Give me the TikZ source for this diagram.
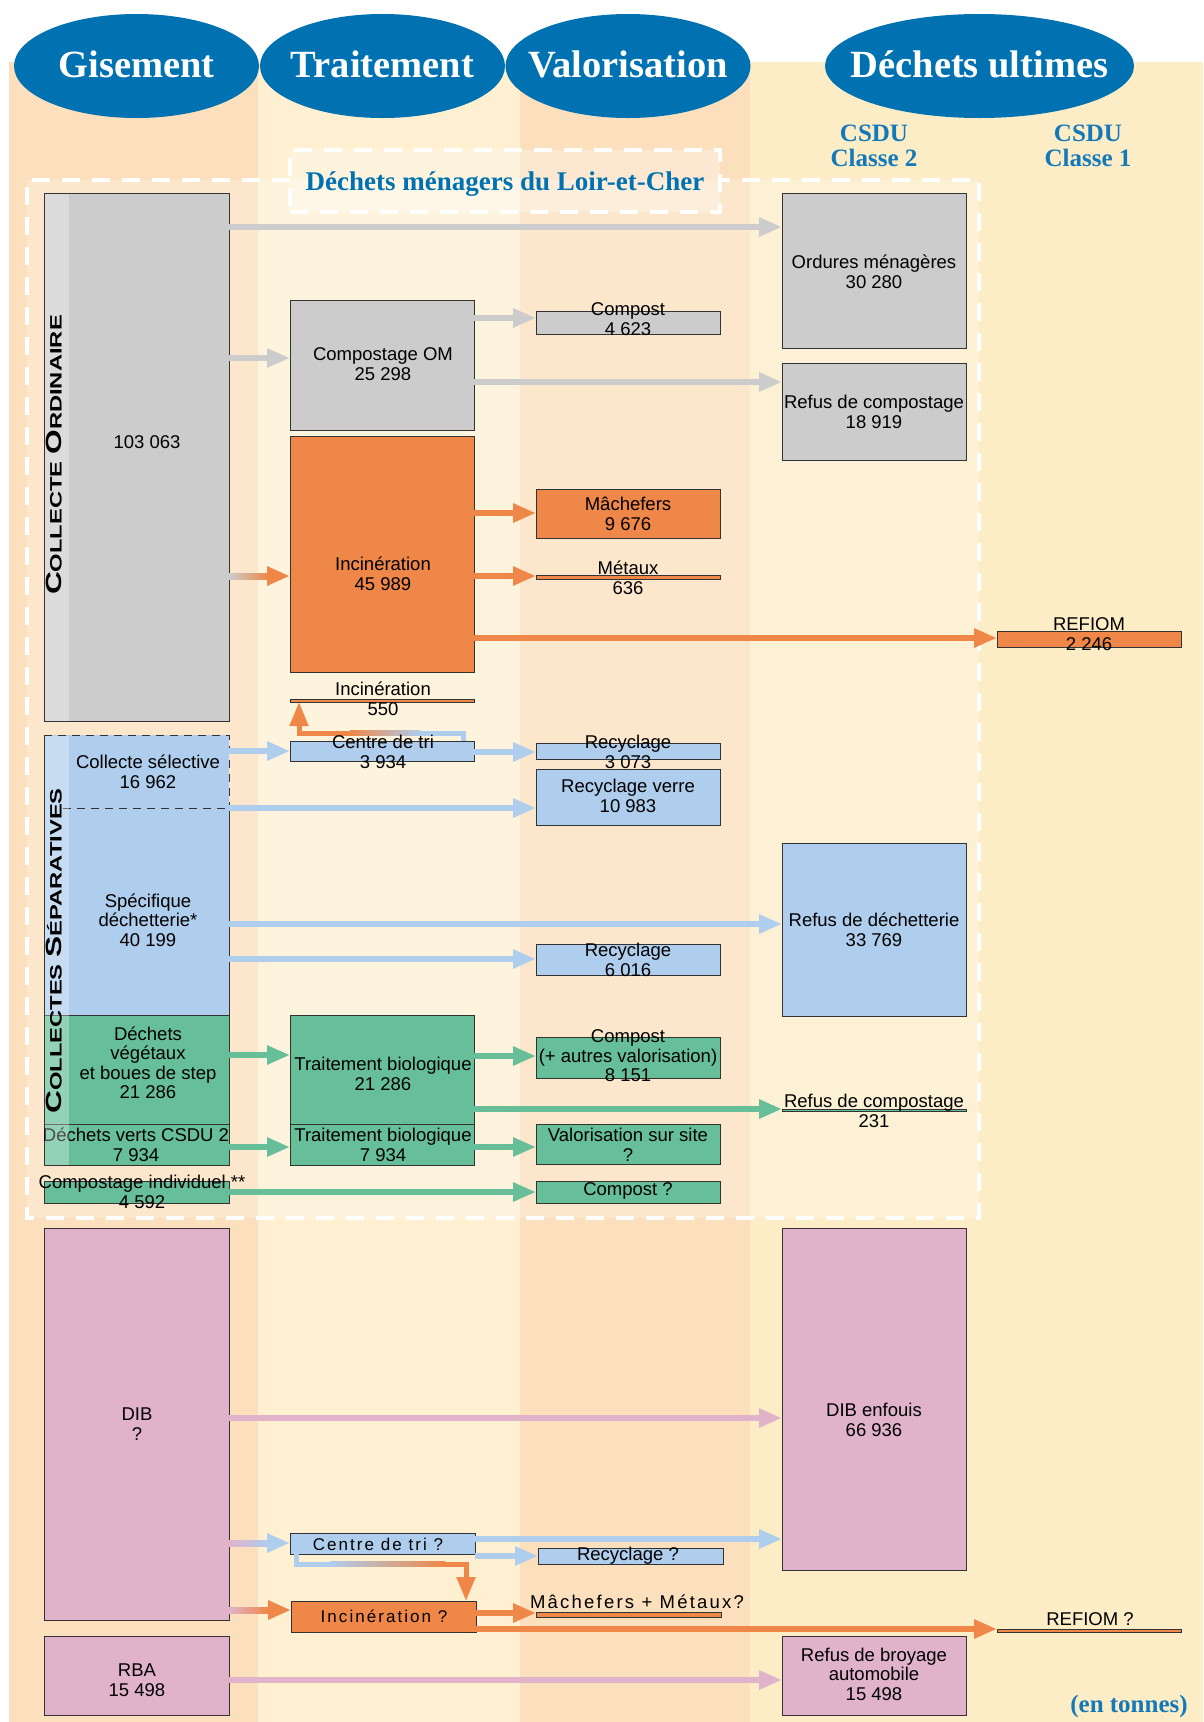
\documentclass[tikz,border=0pt]{standalone}
\usepackage{fontspec}
\setmainfont{Liberation Sans}
\newfontfamily\hdrfont{Liberation Serif}
\newfontfamily\spcfont[LetterSpace=12]{Liberation Sans}
\usetikzlibrary{shapes.geometric,arrows.meta,fit,calc}
\definecolor{hblue}{HTML}{0072B1}
\definecolor{tblue}{HTML}{1479B8}
\definecolor{colA}{HTML}{FCDFBC}
\definecolor{colB}{HTML}{FEF0D1}
\definecolor{colC}{HTML}{FDEDC7}
\definecolor{cgray}{HTML}{CCCCCC}
\definecolor{corange}{HTML}{EE8748}
\definecolor{cblue}{HTML}{AFCDEC}
\definecolor{cgreen}{HTML}{67BF99}
\definecolor{cpink}{HTML}{E0B3CB}
\tikzset{
  bx/.style={inner sep=0pt, outer sep=0pt, draw=black!80, line width=0.9pt},
  bxf/.style={inner sep=0pt, outer sep=0pt, draw=none},
  txt/.style={font=\fontsize{18.5}{19.5}\selectfont, align=center, inner sep=0pt, text=black},
  spc/.style={font=\spcfont\fontsize{17}{17}\selectfont, inner sep=0pt, text=black},
  hdr/.style={font=\hdrfont\bfseries\fontsize{38.5}{38.5}\selectfont, text=white, inner sep=0pt},
  csdu/.style={font=\hdrfont\bfseries\fontsize{25}{25}\selectfont, text=tblue, align=center, inner sep=0pt},
  hell/.style={ellipse, fill=hblue, inner sep=0pt, minimum height=104pt},
  arr/.style={line width=6pt, -{Triangle[length=23pt,width=18pt]}},
  elb/.style={line width=5pt, line join=miter},
  elbarr/.style={line width=5pt, line join=miter, -{Triangle[length=24pt,width=18pt]}},
  wdash/.style={draw=white, line width=4pt, dash pattern=on 18pt off 12pt},
  sdash/.style={draw=black!80, line width=0.9pt, dash pattern=on 8pt off 6pt},
  sline/.style={draw=black!80, line width=0.9pt},
  vtxt/.style={rotate=90, inner sep=0pt, text=black}
}
\newcommand\bigsc{\fontsize{22}{22}\selectfont}
\newcommand\smlsc{\fontsize{16.5}{16.5}\selectfont}
\begin{document}
\begin{tikzpicture}[x=1pt, y=-1pt]
\useasboundingbox (0,0) rectangle (1203,1722);
% background
\fill[white] (0,0) rectangle (1203,1722);
\fill[colA] (9,62) rectangle (258,1722);
\fill[colB] (258,62) rectangle (520,1722);
\fill[colA] (520,62) rectangle (750,1722);
\fill[colC] (750,62) rectangle (1203,1722);
% headers
\node[hell, minimum width=245pt] (h1) at (136.5,66) {};
\node[hell, minimum width=245pt] (h2) at (382.5,66) {};
\node[hell, minimum width=245pt] (h3) at (628,66) {};
\node[hell, minimum width=309pt] (h4) at (979.5,66) {};
\node[hdr, anchor=base] (h1t) at (136.5,77) {Gisement};
\node[hdr, anchor=base] (h2t) at (382.5,77) {Traitement};
\node[hdr, anchor=base] (h3t) at (628,77) {Valorisation};
\node[hdr, anchor=base] (h4t) at (979.5,77) {Déchets ultimes};
\node[csdu] (c2) at (874,146) {CSDU\\Classe 2};
\node[csdu] (c1) at (1088,146) {CSDU\\Classe 1};
% main dashed box
\fill[white, opacity=0.25] (27,180) rectangle (979,1218);
\draw[wdash] (290,180) -- (27,180) -- (27,1218) -- (979,1218) -- (979,180) -- (720,180);
\node[inner sep=0pt, fit={(290,150) (720,212)}, fill=white, fill opacity=0.3, wdash] (lbl) {};
\node[font=\hdrfont\bfseries\fontsize{27}{27}\selectfont, text=hblue, anchor=base, inner sep=0pt] (lblt) at (505,190) {Déchets ménagers du Loir-et-Cher};
% boxes
\node[bx, fill=cgray, fit={(44,193) (229,721)}] (co) {};
\node[bx, fill=cgray, fit={(782,193) (966,348)}] (om) {};
\node[bx, fill=cgray, fit={(290,300) (474,430)}] (comp) {};
\node[bx, fill=cgray, fit={(536,311) (720,334)}] (cmp) {};
\node[bx, fill=cgray, fit={(782,363) (966,460)}] (ref1) {};
\node[bx, fill=corange, fit={(290,436) (474,672)}] (inc) {};
\node[bx, fill=corange, fit={(536,489) (720,538)}] (mach) {};
\node[bx, fill=corange, fit={(536,575) (720,579)}] (met) {};
\node[bx, fill=corange, fit={(997,631) (1181,647)}] (refiom) {};
\node[bx, fill=corange, fit={(290,699) (474,702)}] (inc5) {};
\node[bx, fill=cblue, fit={(290,741) (474,761)}] (ct) {};
\node[bx, fill=cblue, fit={(536,743) (720,759)}] (rec1) {};
\node[bx, fill=cblue, fit={(536,769) (720,825)}] (recv) {};
\node[bxf, fill=cblue, fit={(44,735) (229,808)}] (cs) {};
\node[bxf, fill=cblue, fit={(44,808) (229,1015)}] (csd) {};
\node[bxf, fill=cgreen, fit={(44,1015) (229,1124)}] (dv) {};
\node[bxf, fill=cgreen, fit={(44,1124) (229,1165)}] (dvc) {};
\node[bx, fill=cblue, fit={(782,843) (966,1016)}] (refdec) {};
\node[bx, fill=cblue, fit={(536,944) (720,975)}] (rec2) {};
\node[bx, fill=cgreen, fit={(290,1015) (474,1124)}] (tb1) {};
\node[bx, fill=cgreen, fit={(536,1037) (720,1078)}] (cmp2) {};
\node[bx, fill=cgreen, fit={(782,1109) (966,1111)}] (ref231) {};
\node[bx, fill=cgreen, fit={(290,1124) (474,1165)}] (tb2) {};
\node[bx, fill=cgreen, fit={(536,1124) (720,1164)}] (val) {};
\node[bx, fill=cgreen, fit={(44,1181) (229,1203)}] (ci) {};
\node[bx, fill=cgreen, fit={(536,1181) (720,1203)}] (cmpq) {};
\node[bx, fill=cpink, fit={(44,1228) (229,1620)}] (dib) {};
\node[bx, fill=cpink, fit={(782,1228) (966,1570)}] (dibe) {};
\node[bx, fill=cblue, fit={(290,1533) (475,1554)}] (ctq) {};
\node[bx, fill=cblue, fit={(538,1548) (723,1564)}] (recq) {};
\node[bx, fill=corange, fit={(291,1601) (476,1632)}] (incq) {};
\node[bx, fill=corange, fit={(536,1612) (721,1617)}] (machq) {};
\node[bx, fill=corange, fit={(997,1629) (1181,1632)}] (refq) {};
\node[bx, fill=cpink, fit={(44,1636) (229,1715)}] (rba) {};
\node[bx, fill=cpink, fit={(782,1636) (966,1715)}] (rbar) {};
% collectes separatives outline
\draw[sline] (csd.north east) -- (dvc.south east) -- (dvc.south west) -- (cs.north west);
\draw[sdash] (cs.north west) -- (cs.north east) -- (cs.south east);
\draw[sdash] ($(cs.south west)+(19,0)$) -- (cs.south east);
\draw[sline] (dv.north west) -- (dv.north east);
\draw[sline] (dvc.north west) -- (dvc.north east);
% arrows: collecte ordinaire
\draw[arr, cgray] (co.east |- 0,227) -- (om.west |- 0,227);
\draw[arr, cgray] (co.east |- 0,358) -- (comp.west |- 0,358);
\draw[arr, corange] (co.east |- 0,576) -- (inc.west |- 0,576);
\shade[left color=cgray, right color=corange] (co.east |- 0,573) rectangle (268,579);
\draw[arr, cgray] (comp.east |- 0,318) -- (cmp.west |- 0,318);
\draw[arr, cgray] (comp.east |- 0,382) -- (ref1.west |- 0,382);
\draw[arr, corange] (inc.east |- 0,513) -- (mach.west |- 0,513);
\draw[arr, corange] (inc.east |- 0,576) -- (met.west |- 0,576);
\draw[arr, corange] (inc.east |- 0,638) -- (refiom.west |- 0,638);
% centre de tri -> incineration 550
\draw[elb, cblue] (ct.north -| 463,0) -- (463,733) -- (420,733);
\shade[left color=corange, right color=cblue] (350,730.5) rectangle (420,735.5);
\draw[elbarr, corange] (350,733) -- (299,733) -- (inc5.south -| 299,0);
% collectes separatives
\draw[arr, cblue] (cs.east |- 0,751) -- (ct.west |- 0,751);
\draw[arr, cblue] (ct.east |- 0,752) -- (rec1.west |- 0,752);
\draw[arr, cblue] (csd.east |- 0,808) -- (recv.west |- 0,808);
\draw[arr, cblue] (csd.east |- 0,924) -- (refdec.west |- 0,924);
\draw[arr, cblue] (csd.east |- 0,959) -- (rec2.west |- 0,959);
\draw[arr, cgreen] (dv.east |- 0,1055) -- (tb1.west |- 0,1055);
\draw[arr, cgreen] (tb1.east |- 0,1056) -- (cmp2.west |- 0,1056);
\draw[arr, cgreen] (tb1.east |- 0,1109) -- (ref231.west |- 0,1109);
\draw[arr, cgreen] (dvc.east |- 0,1147) -- (tb2.west |- 0,1147);
\draw[arr, cgreen] (tb2.east |- 0,1147) -- (val.west |- 0,1147);
\draw[arr, cgreen] (ci.east |- 0,1192) -- (cmpq.west |- 0,1192);
% DIB and RBA
\draw[arr, cpink] (dib.east |- 0,1418) -- (dibe.west |- 0,1418);
\draw[arr, cblue] (dib.east |- 0,1543) -- (ctq.west |- 0,1543);
\shade[left color=cpink, right color=cblue] (dib.east |- 0,1540) rectangle (268,1546);
\draw[arr, cblue] (ctq.east |- 0,1539) -- (dibe.west |- 0,1539);
\draw[arr, cblue] (ctq.east |- 0,1556) -- (recq.west |- 0,1556);
\draw[elb, cblue] (ctq.south -| 296,0) -- (296,1564) -- (330,1564);
\shade[left color=cblue, right color=corange] (330,1561.5) rectangle (445,1566.5);
\draw[elbarr, corange] (445,1564) -- (466,1564) -- (incq.north -| 466,0);
\draw[arr, corange] (dib.east |- 0,1610) -- (incq.west |- 0,1610);
\shade[left color=cpink, right color=corange] (dib.east |- 0,1607) rectangle (268,1613);
\draw[arr, corange] (incq.east |- 0,1613) -- (machq.west |- 0,1613);
\draw[arr, corange] (incq.east |- 0,1629) -- (refq.west |- 0,1629);
\draw[arr, cpink] (rba.east |- 0,1680) -- (rbar.west |- 0,1680);
% texts
\node[txt] (co-t) at (147,442) {103 063};
\node[txt] (om-t) at (874,272) {Ordures ménagères\\30 280};
\node[txt] (comp-t) at (383,364) {Compostage OM\\25 298};
\node[txt] (cmp-t) at (628,319) {Compost\\4 623};
\node[txt] (ref1-t) at (874,412) {Refus de compostage\\18 919};
\node[txt] (inc-t) at (383,574) {Incinération\\45 989};
\node[txt] (mach-t) at (628,514) {Mâchefers\\9 676};
\node[txt] (met-t) at (628,578) {Métaux\\636};
\node[txt] (refiom-t) at (1089,634) {REFIOM\\2 246};
\node[txt] (inc5-t) at (383,699) {Incinération\\550};
\node[txt] (ct-t) at (383,752) {Centre de tri\\3 934};
\node[txt] (rec1-t) at (628,752) {Recyclage\\3 073};
\node[txt] (recv-t) at (628,796) {Recyclage verre\\10 983};
\node[txt] (cs-t) at (148,772) {Collecte sélective\\16 962};
\node[txt] (csd-t) at (148,920) {Spécifique\\déchetterie*\\40 199};
\node[txt] (dv-t) at (148,1063) {Déchets\\végétaux\\et boues de step\\21 286};
\node[txt] (dvc-t) at (136,1145) {Déchets verts CSDU 2\\7 934};
\node[txt] (refdec-t) at (874,930) {Refus de déchetterie\\33 769};
\node[txt] (rec2-t) at (628,960) {Recyclage\\6 016};
\node[txt] (tb1-t) at (383,1074) {Traitement biologique\\21 286};
\node[txt] (cmp2-t) at (628,1056) {Compost\\(+ autres valorisation)\\8 151};
\node[txt] (ref231-t) at (874,1111) {Refus de compostage\\231};
\node[txt] (tb2-t) at (383,1145) {Traitement biologique\\7 934};
\node[txt] (val-t) at (628,1145) {Valorisation sur site\\?};
\node[txt] (ci-t) at (142,1192) {Compostage individuel **\\4 592};
\node[txt] (cmpq-t) at (628,1191) {Compost ?};
\node[txt] (dib-t) at (137,1424) {DIB\\?};
\node[txt] (dibe-t) at (874,1420) {DIB enfouis\\66 936};
\node[spc] (ctq-t) at (378,1544) {Centre de tri ?};
\node[txt] (recq-t) at (628,1556) {Recyclage ?};
\node[spc] (incq-t) at (384,1616) {Incinération ?};
\node[spc, font=\spcfont\fontsize{18.5}{18.5}\selectfont] (machq-t) at (637,1602) {Mâchefers + Métaux?};
\node[txt] (refq-t) at (1090,1619) {REFIOM ?};
\node[txt] (rba-t) at (137,1680) {RBA\\15 498};
\node[txt] (rbar-t) at (874,1674) {Refus de broyage\\automobile\\15 498};
% side strips (translucent) and vertical labels
\fill[white, opacity=0.3] ($(co.north west)+(0.5,0.5)$) rectangle ($(co.south west)+(25,-0.5)$);
\fill[white, opacity=0.3] ($(cs.north west)+(0.5,0.5)$) rectangle ($(dvc.south west)+(25,-0.5)$);
\node[vtxt] (vt1) at (54,455) {\scalebox{1.44}[1]{\bfseries\bigsc C\smlsc OLLECTE \bigsc O\smlsc RDINAIRE}};
\node[vtxt] (vt2) at (54,951) {\scalebox{1.44}[1]{\bfseries\bigsc C\smlsc OLLECTES \bigsc S\smlsc ÉPARATIVES}};
% unit
\node[font=\hdrfont\bfseries\fontsize{25}{25}\selectfont, text=tblue, anchor=base, inner sep=0pt] (unit) at (1129,1712) {(en tonnes)};
\end{tikzpicture}
\end{document}
